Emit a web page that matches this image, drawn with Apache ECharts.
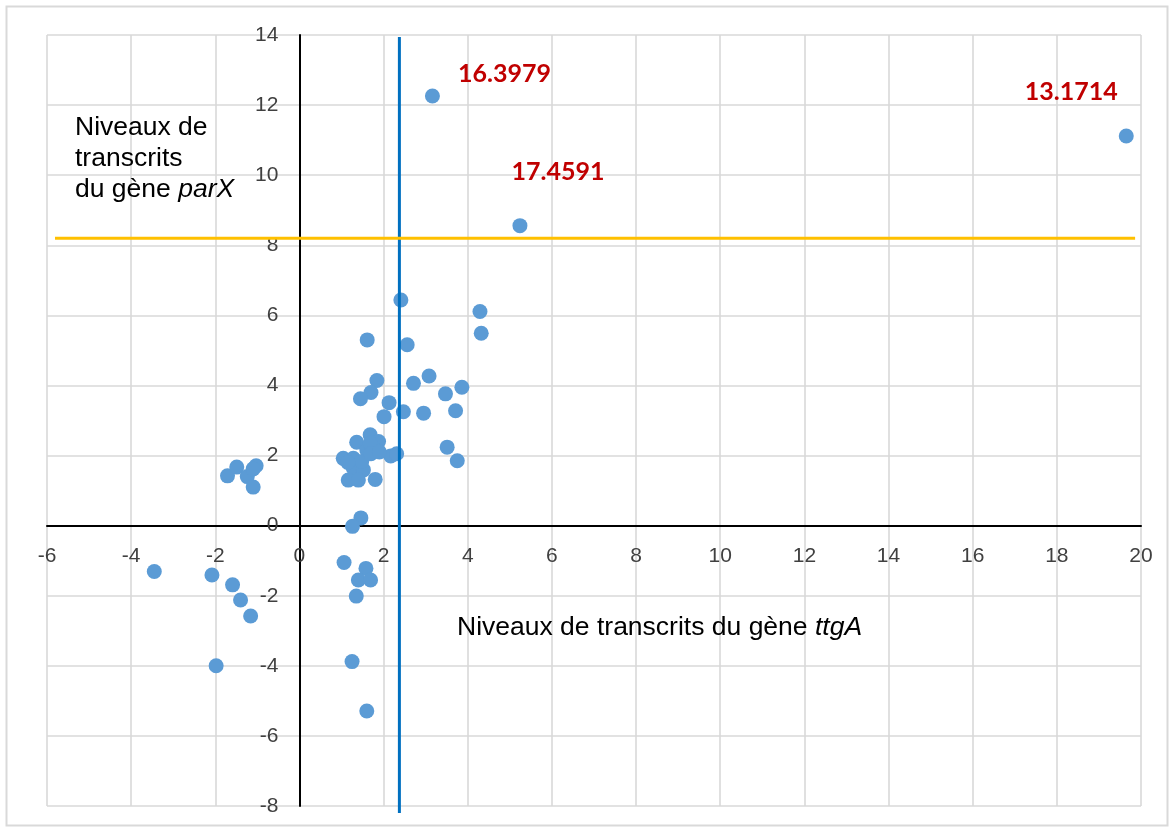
<!DOCTYPE html>
<html>
<head>
<meta charset="utf-8">
<script src="https://cdn.jsdelivr.net/npm/echarts@6.0.0/dist/echarts.min.js"></script>
<style>
html,body{margin:0;padding:0;background:#fff;}
#chart{width:1174px;height:832px;}
</style>
</head>
<body>
<div id="chart"></div>
<script>
// ---- data ----
const ttgA = [2.41, 4.29, 4.32, 1.61, 2.56, 1.84, 2.71, 3.08, 3.86, 3.47,
  1.70, 1.45, 2.13, 2.47, 2.95, 3.71, 2.01, 3.51, 3.75, 2.17,
  2.31, 1.04, 1.68, 1.36, 1.88, 1.80, 1.60, 1.28, 1.28, 1.52,
  1.16, 1.40, 1.80, 1.68, 1.48, 1.70, 1.90, 1.15, -1.71, -1.49,
  -1.24, -1.03, -1.10, -1.10, 1.46, 1.26, -3.45, -2.08, -1.59, -1.40,
  -1.16, -1.98, 1.06, 1.58, 1.40, 1.69, 1.35, 1.25, 1.60];
const parX = [6.44, 6.11, 5.49, 5.30, 5.16, 4.14, 4.06, 4.27, 3.95, 3.76,
  3.80, 3.62, 3.51, 3.25, 3.21, 3.28, 3.11, 2.24, 1.85, 1.99,
  2.05, 1.92, 2.59, 2.38, 2.40, 2.16, 2.16, 1.92, 1.64, 1.59,
  1.30, 1.30, 1.32, 2.35, 1.83, 2.05, 2.10, 1.80, 1.42, 1.67,
  1.40, 1.71, 1.10, 1.62, 0.22, -0.02, -1.31, -1.41, -1.69, -2.12,
  -2.58, -4.00, -1.05, -1.22, -1.55, -1.55, -2.01, -3.88, -5.29];
const outlierTtgA = [3.16, 5.24, 19.65];
const outlierParX = [12.26, 8.56, 11.12];
const outlierLabels = ['16.3979', '17.4591', '13.1714'];
const thresholdTtgA = 2.375;
const thresholdParX = 8.2;
const xTicks = {min: -6, max: 20, step: 2};
const yTicks = {min: -8, max: 14, step: 2};
const xTitle = 'Niveaux de transcrits du gène ';
const xTitleItalic = 'ttgA';
const yTitleLines = ['Niveaux de', 'transcrits', 'du gène '];
const yTitleItalic = 'parX';

// ---- chart ----
const chart = echarts.init(document.getElementById('chart'), null, {renderer: 'canvas'});
const font = '"Liberation Sans", Arial, sans-serif';
const pts = ttgA.map((x, i) => [x, parX[i]]);
const labelOffsets = [[72, -22], [38, -54], [-55, -44]];
const outPts = outlierTtgA.map((x, i) => ({
  value: [x, outlierParX[i]],
  label: {show: true, formatter: outlierLabels[i], offset: labelOffsets[i]}
}));
const titleRich = {
  n: {fontSize: 26.5, fontFamily: font, fill: '#000', lineHeight: 31},
  i: {fontSize: 26.5, fontFamily: font, fontStyle: 'italic', fill: '#000', lineHeight: 31}
};

const option = {
  animation: false,
  backgroundColor: '#fff',
  grid: {left: 47, top: 35, right: 33, bottom: 26, containLabel: false, outerBoundsMode: 'none'},
  xAxis: {
    type: 'value', min: xTicks.min, max: xTicks.max, interval: xTicks.step,
    axisLine: {show: true, onZero: false, lineStyle: {color: '#000', width: 2}},
    axisTick: {show: false},
    axisLabel: {color: '#404040', fontSize: 21, fontFamily: font, margin: 20, showMinLabel: true, showMaxLabel: true},
    splitLine: {show: true, lineStyle: {color: '#D9D9D9', width: 1.6}}
  },
  yAxis: {
    type: 'value', min: yTicks.min, max: yTicks.max, interval: yTicks.step,
    axisLine: {show: true, onZero: false, lineStyle: {color: '#000', width: 2}},
    axisTick: {show: false},
    axisLabel: {color: '#404040', fontSize: 21, fontFamily: font, margin: 21, showMinLabel: true, showMaxLabel: true},
    splitLine: {show: true, lineStyle: {color: '#D9D9D9', width: 1.6}}
  },
  series: [
    {
      type: 'scatter', data: pts, symbolSize: 15,
      itemStyle: {color: '#5B9BD5', opacity: 1}, z: 3
    },
    {
      type: 'scatter', data: outPts, symbolSize: 15,
      itemStyle: {color: '#5B9BD5', opacity: 1}, z: 3,
      label: {position: 'inside', color: '#C00000', fontSize: 25, fontWeight: 'bold', fontFamily: 'Lato, "Open Sans", sans-serif'}
    },
    {
      type: 'line', data: [[thresholdTtgA, 13.94], [thresholdTtgA, -8.2]],
      symbol: 'none', clip: false, z: 5,
      lineStyle: {color: '#0070C0', width: 3}
    },
    {
      type: 'line', data: [[-5.81, thresholdParX], [19.86, thresholdParX]],
      symbol: 'none', clip: false, z: 5,
      lineStyle: {color: '#FFC000', width: 3}
    }
  ],
  graphic: [
    {
      type: 'rect', silent: true, z: -1,
      shape: {x: 6.5, y: 6.5, width: 1161, height: 819},
      style: {fill: 'none', stroke: '#D9D9D9', lineWidth: 2}
    },
    {
      type: 'text', left: 457, top: 614, z: 10,
      style: {
        text: '{n|' + xTitle + '}{i|' + xTitleItalic + '}',
        rich: titleRich
      }
    },
    {
      type: 'text', left: 75, top: 114, z: 10,
      style: {
        text: yTitleLines.slice(0, -1).map(l => '{n|' + l + '}').join('\n') + '\n{n|' + yTitleLines[yTitleLines.length - 1] + '}{i|' + yTitleItalic + '}',
        rich: titleRich
      }
    }
  ]
};
chart.setOption(option);

// Move both axes (line + labels) onto the origin, like crossing axes at 0.
const x0 = chart.convertToPixel({xAxisIndex: 0}, 0);
const xLeft = chart.convertToPixel({xAxisIndex: 0}, xTicks.min);
const y0 = chart.convertToPixel({yAxisIndex: 0}, 0);
const yBottom = chart.convertToPixel({yAxisIndex: 0}, yTicks.min);
chart.setOption({
  xAxis: {offset: -(yBottom - y0)},
  yAxis: {offset: -(x0 - xLeft)}
});
</script>
</body>
</html>
